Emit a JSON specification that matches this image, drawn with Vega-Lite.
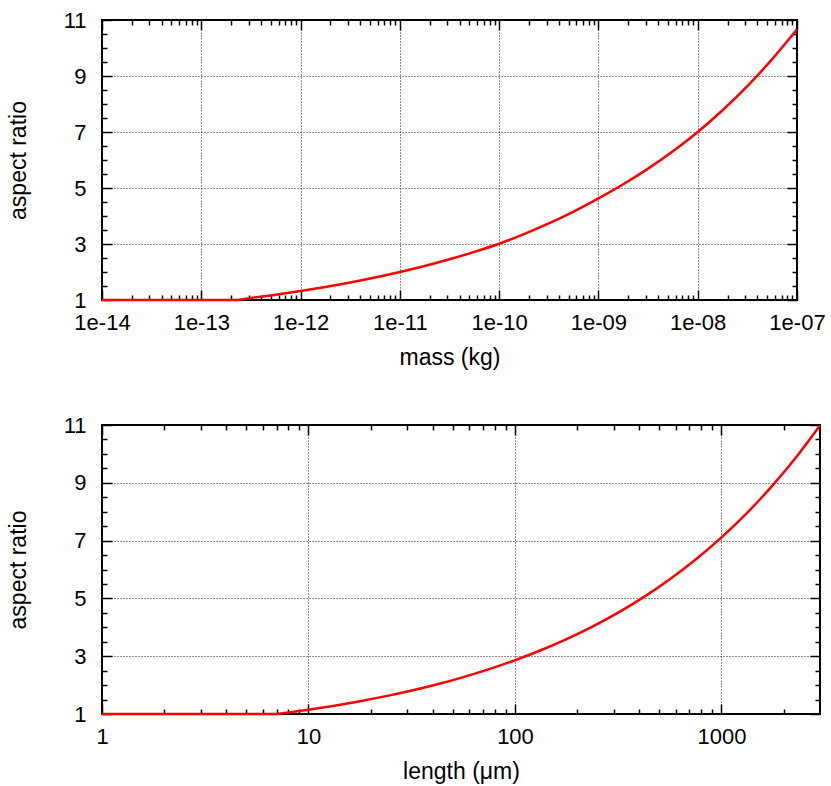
{
  "$schema": "https://vega.github.io/schema/vega-lite/v6.json",
  "padding": {"left": 6, "top": 8, "right": 4, "bottom": 2},
  "spacing": 42,
  "config": {
    "font": "Liberation Sans",
    "view": {"stroke": "#000000", "strokeWidth": 2},
    "axis": {
      "domain": false,
      "labelFont": "Liberation Sans",
      "labelFontSize": 22,
      "labelColor": "#000000",
      "labelFlush": false,
      "labelOverlap": false,
      "labelBound": false,
      "titleFont": "Liberation Sans",
      "titleFontSize": 23,
      "titleFontWeight": "normal",
      "titleColor": "#000000",
      "tickColor": "#000000",
      "tickWidth": 1.5,
      "gridColor": "#000000",
      "gridDash": [1, 2],
      "gridWidth": 1,
      "gridOpacity": 0.85
    }
  },
  "datasets": {
    "mass": [
      {"m": 1e-14, "r": 1},
      {"m": 1e-13, "r": 1},
      {"m": 2.24e-13, "r": 1},
      {"m": 3.162e-13, "r": 1.072},
      {"m": 5.623e-13, "r": 1.19},
      {"m": 1e-12, "r": 1.32},
      {"m": 1.778e-12, "r": 1.4645},
      {"m": 3.162e-12, "r": 1.625},
      {"m": 5.623e-12, "r": 1.803},
      {"m": 1e-11, "r": 2.0},
      {"m": 1.778e-11, "r": 2.215},
      {"m": 3.162e-11, "r": 2.454},
      {"m": 5.623e-11, "r": 2.718},
      {"m": 1e-10, "r": 3.01},
      {"m": 1.778e-10, "r": 3.352},
      {"m": 3.162e-10, "r": 3.733},
      {"m": 5.623e-10, "r": 4.158},
      {"m": 1e-9, "r": 4.63},
      {"m": 1.778e-9, "r": 5.134},
      {"m": 3.162e-9, "r": 5.693},
      {"m": 5.623e-9, "r": 6.313},
      {"m": 1e-8, "r": 7.0},
      {"m": 1.778e-8, "r": 7.778},
      {"m": 3.162e-8, "r": 8.642},
      {"m": 5.623e-8, "r": 9.602},
      {"m": 1e-7, "r": 10.67}
    ],
    "len": [
      {"L": 1, "r": 1},
      {"L": 7.01, "r": 1},
      {"L": 7.499, "r": 1.027},
      {"L": 10, "r": 1.15},
      {"L": 13.34, "r": 1.289},
      {"L": 17.78, "r": 1.444},
      {"L": 23.71, "r": 1.618},
      {"L": 31.62, "r": 1.814},
      {"L": 42.17, "r": 2.032},
      {"L": 56.23, "r": 2.277},
      {"L": 74.99, "r": 2.552},
      {"L": 100, "r": 2.86},
      {"L": 133.4, "r": 3.205},
      {"L": 177.8, "r": 3.592},
      {"L": 237.1, "r": 4.025},
      {"L": 316.2, "r": 4.51},
      {"L": 421.7, "r": 5.054},
      {"L": 562.3, "r": 5.664},
      {"L": 749.9, "r": 6.346},
      {"L": 1000, "r": 7.111},
      {"L": 1334, "r": 7.968},
      {"L": 1778, "r": 8.929},
      {"L": 2371, "r": 10.006},
      {"L": 3000, "r": 10.98}
    ]
  },
  "vconcat": [
    {
      "width": 695,
      "height": 280,
      "data": {"name": "mass"},
      "resolve": {"axis": {"x": "independent", "y": "independent"}},
      "layer": [
        {
          "mark": {"type": "line", "color": "#ff0000", "strokeWidth": 2.5, "interpolate": "monotone"},
          "encoding": {
            "x": {"field": "m", "type": "quantitative",
              "scale": {"type": "log", "domain": [1e-14, 1e-7], "nice": false},
              "axis": {"orient": "bottom", "values": [1e-14, 1e-13, 1e-12, 1e-11, 1e-10, 1e-9, 1e-8, 1e-7],
                "labelExpr": "'1e-' + (round(-log(datum.value)/LN10) < 10 ? '0' : '') + round(-log(datum.value)/LN10)",
                "title": "mass (kg)", "grid": true, "ticks": false, "tickSize": 0, "labelPadding": 12.5, "titlePadding": 13}},
            "y": {"field": "r", "type": "quantitative",
              "scale": {"domain": [1, 11], "nice": false, "zero": false},
              "axis": {"orient": "left", "values": [1, 3, 5, 7, 9, 11], "title": "aspect ratio", "grid": true,
                "ticks": false, "tickSize": 0, "labelPadding": 16, "titlePadding": 33}}
          }
        },
        {
          "mark": {"type": "line", "opacity": 0},
          "encoding": {
            "x": {"field": "m", "type": "quantitative",
              "scale": {"type": "log", "domain": [1e-14, 1e-7], "nice": false},
              "axis": {"orient": "bottom", "values": [1e-14, 1e-13, 1e-12, 1e-11, 1e-10, 1e-9, 1e-8, 1e-7],
                "labels": false, "grid": false, "title": null, "tickSize": 10, "offset": -10}},
            "y": {"field": "r", "type": "quantitative",
              "scale": {"domain": [1, 11], "nice": false, "zero": false},
              "axis": {"orient": "left", "values": [1, 3, 5, 7, 9, 11], "labels": false, "grid": false, "title": null, "tickSize": 10, "offset": -10}}
          }
        },
        {
          "mark": {"type": "line", "opacity": 0},
          "encoding": {
            "x": {"field": "m", "type": "quantitative",
              "scale": {"type": "log", "domain": [1e-14, 1e-7], "nice": false},
              "axis": {"orient": "top", "values": [1e-14, 1e-13, 1e-12, 1e-11, 1e-10, 1e-9, 1e-8, 1e-7],
                "labels": false, "grid": false, "title": null, "tickSize": 10, "offset": -10}},
            "y": {"field": "r", "type": "quantitative",
              "scale": {"domain": [1, 11], "nice": false, "zero": false},
              "axis": {"orient": "right", "values": [1, 3, 5, 7, 9, 11], "labels": false, "grid": false, "title": null, "tickSize": 10, "offset": -10}}
          }
        },
        {
          "mark": {"type": "line", "opacity": 0},
          "encoding": {
            "x": {"field": "m", "type": "quantitative",
              "scale": {"type": "log", "domain": [1e-14, 1e-7], "nice": false},
              "axis": {"orient": "bottom",
                "values": [2e-14, 3e-14, 4e-14, 5e-14, 6e-14, 7e-14, 8e-14, 9e-14, 2e-13, 3e-13, 4e-13, 5e-13, 6e-13, 7e-13, 8e-13, 9e-13, 2e-12, 3e-12, 4e-12, 5e-12, 6e-12, 7e-12, 8e-12, 9e-12, 2e-11, 3e-11, 4e-11, 5e-11, 6e-11, 7e-11, 8e-11, 9e-11, 2e-10, 3e-10, 4e-10, 5e-10, 6e-10, 7e-10, 8e-10, 9e-10, 2e-9, 3e-9, 4e-9, 5e-9, 6e-9, 7e-9, 8e-9, 9e-9, 2e-8, 3e-8, 4e-8, 5e-8, 6e-8, 7e-8, 8e-8, 9e-8],
                "labels": false, "grid": false, "title": null, "tickSize": 5, "offset": -5}},
            "y": {"field": "r", "type": "quantitative",
              "scale": {"domain": [1, 11], "nice": false, "zero": false},
              "axis": {"orient": "left", "values": [1.5, 2, 2.5, 3.5, 4, 4.5, 5.5, 6, 6.5, 7.5, 8, 8.5, 9.5, 10, 10.5],
                "labels": false, "grid": false, "title": null, "tickSize": 5, "offset": -5}}
          }
        },
        {
          "mark": {"type": "line", "opacity": 0},
          "encoding": {
            "x": {"field": "m", "type": "quantitative",
              "scale": {"type": "log", "domain": [1e-14, 1e-7], "nice": false},
              "axis": {"orient": "top",
                "values": [2e-14, 3e-14, 4e-14, 5e-14, 6e-14, 7e-14, 8e-14, 9e-14, 2e-13, 3e-13, 4e-13, 5e-13, 6e-13, 7e-13, 8e-13, 9e-13, 2e-12, 3e-12, 4e-12, 5e-12, 6e-12, 7e-12, 8e-12, 9e-12, 2e-11, 3e-11, 4e-11, 5e-11, 6e-11, 7e-11, 8e-11, 9e-11, 2e-10, 3e-10, 4e-10, 5e-10, 6e-10, 7e-10, 8e-10, 9e-10, 2e-9, 3e-9, 4e-9, 5e-9, 6e-9, 7e-9, 8e-9, 9e-9, 2e-8, 3e-8, 4e-8, 5e-8, 6e-8, 7e-8, 8e-8, 9e-8],
                "labels": false, "grid": false, "title": null, "tickSize": 5, "offset": -5}},
            "y": {"field": "r", "type": "quantitative",
              "scale": {"domain": [1, 11], "nice": false, "zero": false},
              "axis": {"orient": "right", "values": [1.5, 2, 2.5, 3.5, 4, 4.5, 5.5, 6, 6.5, 7.5, 8, 8.5, 9.5, 10, 10.5],
                "labels": false, "grid": false, "title": null, "tickSize": 5, "offset": -5}}
          }
        }
      ]
    },
    {
      "width": 718,
      "height": 289,
      "data": {"name": "len"},
      "resolve": {"axis": {"x": "independent", "y": "independent"}},
      "layer": [
        {
          "mark": {"type": "line", "color": "#ff0000", "strokeWidth": 2.5, "interpolate": "monotone"},
          "encoding": {
            "x": {"field": "L", "type": "quantitative",
              "scale": {"type": "log", "domain": [1, 3000], "nice": false},
              "axis": {"orient": "bottom", "values": [1, 10, 100, 1000], "format": "d",
                "title": "length (μm)", "grid": true, "ticks": false, "tickSize": 0, "labelPadding": 12.5, "titlePadding": 13}},
            "y": {"field": "r", "type": "quantitative",
              "scale": {"domain": [1, 11], "nice": false, "zero": false},
              "axis": {"orient": "left", "values": [1, 3, 5, 7, 9, 11], "title": "aspect ratio", "grid": true,
                "ticks": false, "tickSize": 0, "labelPadding": 16, "titlePadding": 33}}
          }
        },
        {
          "mark": {"type": "line", "opacity": 0},
          "encoding": {
            "x": {"field": "L", "type": "quantitative",
              "scale": {"type": "log", "domain": [1, 3000], "nice": false},
              "axis": {"orient": "bottom", "values": [1, 10, 100, 1000], "labels": false, "grid": false, "title": null, "tickSize": 10, "offset": -10}},
            "y": {"field": "r", "type": "quantitative",
              "scale": {"domain": [1, 11], "nice": false, "zero": false},
              "axis": {"orient": "left", "values": [1, 3, 5, 7, 9, 11], "labels": false, "grid": false, "title": null, "tickSize": 10, "offset": -10}}
          }
        },
        {
          "mark": {"type": "line", "opacity": 0},
          "encoding": {
            "x": {"field": "L", "type": "quantitative",
              "scale": {"type": "log", "domain": [1, 3000], "nice": false},
              "axis": {"orient": "top", "values": [1, 10, 100, 1000], "labels": false, "grid": false, "title": null, "tickSize": 10, "offset": -10}},
            "y": {"field": "r", "type": "quantitative",
              "scale": {"domain": [1, 11], "nice": false, "zero": false},
              "axis": {"orient": "right", "values": [1, 3, 5, 7, 9, 11], "labels": false, "grid": false, "title": null, "tickSize": 10, "offset": -10}}
          }
        },
        {
          "mark": {"type": "line", "opacity": 0},
          "encoding": {
            "x": {"field": "L", "type": "quantitative",
              "scale": {"type": "log", "domain": [1, 3000], "nice": false},
              "axis": {"orient": "bottom", "values": [2, 3, 4, 5, 6, 7, 8, 9, 20, 30, 40, 50, 60, 70, 80, 90, 200, 300, 400, 500, 600, 700, 800, 900, 2000],
                "labels": false, "grid": false, "title": null, "tickSize": 5, "offset": -5}},
            "y": {"field": "r", "type": "quantitative",
              "scale": {"domain": [1, 11], "nice": false, "zero": false},
              "axis": {"orient": "left", "values": [1.5, 2, 2.5, 3.5, 4, 4.5, 5.5, 6, 6.5, 7.5, 8, 8.5, 9.5, 10, 10.5],
                "labels": false, "grid": false, "title": null, "tickSize": 5, "offset": -5}}
          }
        },
        {
          "mark": {"type": "line", "opacity": 0},
          "encoding": {
            "x": {"field": "L", "type": "quantitative",
              "scale": {"type": "log", "domain": [1, 3000], "nice": false},
              "axis": {"orient": "top", "values": [2, 3, 4, 5, 6, 7, 8, 9, 20, 30, 40, 50, 60, 70, 80, 90, 200, 300, 400, 500, 600, 700, 800, 900, 2000],
                "labels": false, "grid": false, "title": null, "tickSize": 5, "offset": -5}},
            "y": {"field": "r", "type": "quantitative",
              "scale": {"domain": [1, 11], "nice": false, "zero": false},
              "axis": {"orient": "right", "values": [1.5, 2, 2.5, 3.5, 4, 4.5, 5.5, 6, 6.5, 7.5, 8, 8.5, 9.5, 10, 10.5],
                "labels": false, "grid": false, "title": null, "tickSize": 5, "offset": -5}}
          }
        }
      ]
    }
  ]
}
